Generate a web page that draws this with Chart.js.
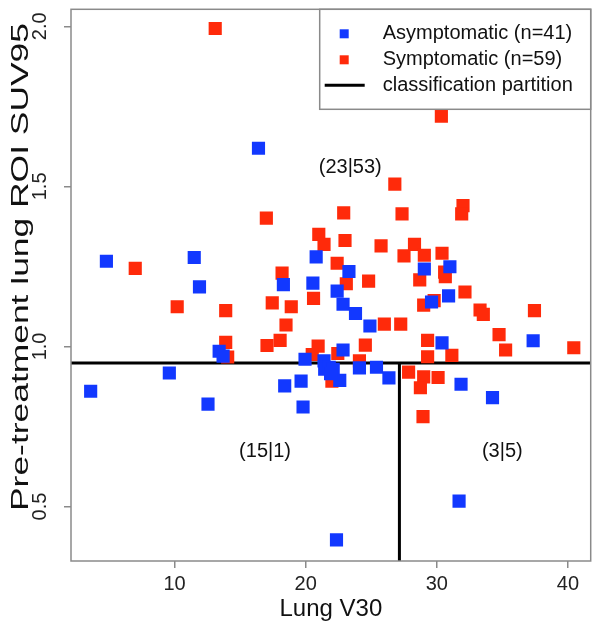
<!DOCTYPE html>
<html>
<head>
<meta charset="utf-8">
<script src="https://cdn.jsdelivr.net/npm/chart.js@4.4.0/dist/chart.umd.min.js"></script>
<style>
  html, body { margin: 0; padding: 0; background: #fff; }
</style>
</head>
<body>
<canvas id="scatterChart" width="600" height="627"></canvas>
<script>
// Asymptomatic patients (n=41)
const asymV30 = [4.8, 11.5, 11.9, 13.4, 13.7, 16.4, 20.8, 23.3, 18.3, 20.55, 22.4, 22.85, 23.8, 24.9, 22.85, 19.95,
    29.05, 31.0, 30.9, 29.6, 30.4, 37.35, 21.4,
    3.6, 9.6, 12.55, 18.4, 19.65, 19.8, 21.45, 21.8, 22.1, 22.6, 24.1, 25.4, 26.35, 22.35, 21.9,
    31.85, 34.25, 31.7];
const asymSUV = [1.266, 1.278, 1.186, 0.985, 0.970, 1.619, 1.280, 1.234, 1.193, 1.198, 1.173, 1.132, 1.103, 1.064, 0.989, 0.960,
    1.242, 1.249, 1.158, 1.139, 1.011, 1.018, 0.955,
    0.860, 0.917, 0.820, 0.877, 0.892, 0.811, 0.929, 0.935, 0.929, 0.894, 0.933, 0.935, 0.902, 0.396, 0.915,
    0.882, 0.840, 0.517];

// Symptomatic patients (n=59)
const symV30 = [13.1, 7.0, 10.2, 13.9, 13.9, 14.05, 30.35, 26.8, 17.0, 22.9, 27.35, 21.0, 21.4, 23.0, 25.75, 27.5,
    28.3, 22.4, 18.2, 23.1, 24.8, 17.45, 20.6, 18.9, 18.5, 26.0, 27.25, 17.05, 18.05, 20.95, 20.5, 22.45,
    24.55, 24.1, 32.0, 31.9, 29.05, 30.4, 30.6, 30.65, 28.7, 32.15, 29.8, 29.0, 33.3, 33.55, 37.45, 34.75,
    29.3, 35.25, 40.45, 29.3, 31.15,
    22.0,
    27.85, 29.0, 28.75, 30.1, 28.95];
const symSUV = [1.993, 1.244, 1.124, 1.112, 1.013, 0.967, 1.719, 1.507, 1.401, 1.417, 1.414, 1.350, 1.319, 1.331, 1.314, 1.283,
    1.319, 1.260, 1.229, 1.196, 1.204, 1.136, 1.150, 1.124, 1.067, 1.070, 1.070, 1.003, 1.019, 1.001, 0.975, 0.978,
    1.004, 0.955, 1.440, 1.414, 1.285, 1.291, 1.232, 1.218, 1.208, 1.170, 1.143, 1.129, 1.114, 1.100, 1.112, 1.037,
    1.019, 0.989, 0.996, 0.968, 0.972,
    0.892,
    0.920, 0.905, 0.871, 0.903, 0.781];

const groupLabels = ['Asymptomatic (n=41)', 'Symptomatic (n=59)', 'classification partition'];
const groupColors = ['#1238ff', '#ff2a0a'];

// Tree split values
const splitV30 = 27.15;
const splitSUV = 0.948;

const xTickValues = [10, 20, 30, 40];
const yTickValues = [0.5, 1.0, 1.5, 2.0];
const xRange = [2.1, 41.74];
const yRange = [0.33, 2.053];
const yTitle = 'Pre-treatment lung ROI SUV95';

// Leaf counts (asymptomatic|symptomatic)
const leafLabels = ['(23|53)', '(15|1)', '(3|5)'];
const leafV30 = [23.4, 16.9, 35.0];
const leafSUV = [1.56, 0.672, 0.672];

function toPoints(xs, ys) {
    return xs.map((x, i) => ({ x: x, y: ys[i] }));
}

const FONT = 'Liberation Sans, Arial, Helvetica, sans-serif';

/**
 * Frame, leaf counts, y title and the legend box
 */
const plotDecor = {
    id: 'plotDecor',
    afterDatasetsDraw(chart) {
        const { ctx, chartArea, scales } = chart;
        ctx.save();
        ctx.fillStyle = '#111';
        ctx.font = '20px ' + FONT;
        ctx.textAlign = 'center';
        ctx.textBaseline = 'middle';
        leafLabels.forEach((t, i) => {
            ctx.fillText(t, scales.x.getPixelForValue(leafV30[i]), scales.y.getPixelForValue(leafSUV[i]));
        });
        ctx.strokeStyle = '#8a8a8a';
        ctx.lineWidth = 1.5;
        ctx.strokeRect(chartArea.left, chartArea.top, chartArea.right - chartArea.left, chartArea.bottom - chartArea.top);

        // y title: the original is drawn tall and narrow
        ctx.font = '24px ' + FONT;
        const k = 488 / ctx.measureText(yTitle).width;
        ctx.translate(21, 267);
        ctx.rotate(-Math.PI / 2);
        ctx.scale(k, 1);
        ctx.fillText(yTitle, 0, 0);
        ctx.restore();
    },
    afterDraw(chart) {
        const { ctx, chartArea } = chart;
        const w = 271, h = 100;
        const left = chartArea.right - w, top = chartArea.top;
        ctx.save();
        ctx.fillStyle = '#fff';
        ctx.fillRect(left, top, w, h);
        ctx.strokeStyle = '#8a8a8a';
        ctx.lineWidth = 1.5;
        ctx.strokeRect(left, top, w, h);

        const rows = [24.5, 50.5, 76];
        ctx.font = '20px ' + FONT;
        ctx.textAlign = 'left';
        ctx.textBaseline = 'middle';
        groupLabels.forEach((label, i) => {
            const cy = top + rows[i];
            if (i < 2) {
                ctx.fillStyle = groupColors[i];
                ctx.fillRect(left + 20, cy - 4.5, 9, 9);
            } else {
                ctx.strokeStyle = '#000';
                ctx.lineWidth = 3;
                ctx.beginPath();
                ctx.moveTo(left + 5, cy);
                ctx.lineTo(left + 45, cy);
                ctx.stroke();
            }
            ctx.fillStyle = '#111';
            ctx.fillText(label, left + 63, cy);
        });
        ctx.restore();
    }
};

const ctx = document.getElementById('scatterChart').getContext('2d');
new Chart(ctx, {
    type: 'scatter',
    data: {
        datasets: [
            {
                label: groupLabels[0],
                data: toPoints(asymV30, asymSUV),
                pointStyle: 'rect',
                pointRadius: 9.3,
                backgroundColor: groupColors[0],
                borderWidth: 0,
                order: 1
            },
            {
                label: groupLabels[1],
                data: toPoints(symV30, symSUV),
                pointStyle: 'rect',
                pointRadius: 9.3,
                backgroundColor: groupColors[1],
                borderWidth: 0,
                order: 2
            },
            {
                label: groupLabels[2],
                data: [{ x: xRange[0], y: splitSUV }, { x: xRange[1], y: splitSUV }],
                showLine: true,
                pointRadius: 0,
                borderColor: '#000',
                borderWidth: 3,
                order: 3
            },
            {
                label: 'vertical split',
                data: [{ x: splitV30, y: yRange[0] }, { x: splitV30, y: splitSUV }],
                showLine: true,
                pointRadius: 0,
                borderColor: '#000',
                borderWidth: 3,
                order: 3
            }
        ]
    },
    options: {
        responsive: false,
        animation: false,
        layout: { padding: { top: 2, right: 7, left: 0, bottom: 0 } },
        plugins: {
            legend: { display: false },
            tooltip: { enabled: false }
        },
        scales: {
            x: {
                type: 'linear',
                min: xRange[0],
                max: xRange[1],
                afterBuildTicks: (s) => { s.ticks = xTickValues.map(v => ({ value: v })); },
                afterFit: (s) => { s.height = 66; s.paddingLeft = 0; s.paddingRight = 0; },
                ticks: {
                    font: { family: FONT, size: 20 },
                    color: '#222',
                    padding: 4,
                    callback: (v) => String(v)
                },
                grid: { drawOnChartArea: false, drawTicks: true, tickLength: 7, color: '#8a8a8a', lineWidth: 1.5 },
                border: { display: false },
                title: {
                    display: true,
                    text: 'Lung V30',
                    font: { family: FONT, size: 24 },
                    color: '#111',
                    padding: { top: 0, bottom: 3 }
                }
            },
            y: {
                type: 'linear',
                min: yRange[0],
                max: yRange[1],
                afterBuildTicks: (s) => { s.ticks = yTickValues.map(v => ({ value: v })); },
                afterFit: (s) => { s.width = 71; s.paddingTop = 0; s.paddingBottom = 0; },
                ticks: {
                    font: { family: FONT, size: 20 },
                    color: '#222',
                    padding: 10,
                    minRotation: 90,
                    maxRotation: 90,
                    crossAlign: 'center',
                    callback: (v) => v.toFixed(1)
                },
                grid: { drawOnChartArea: false, drawTicks: true, tickLength: 7, color: '#8a8a8a', lineWidth: 1.5 },
                border: { display: false }
            }
        }
    },
    plugins: [plotDecor]
});
</script>
</body>
</html>
